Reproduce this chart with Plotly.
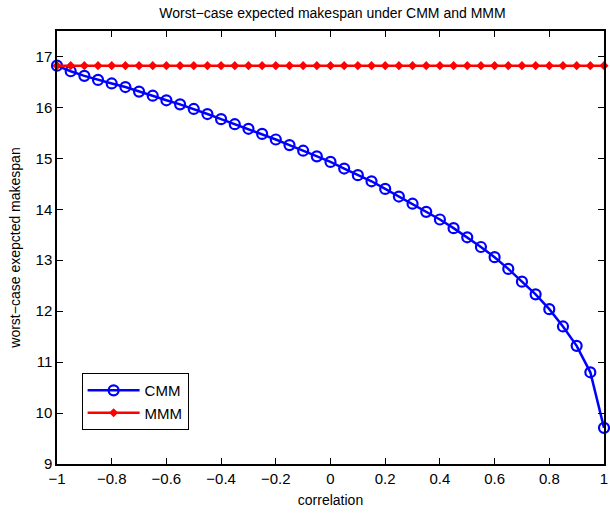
import plotly.graph_objects as go

correlation = [round(-1 + 0.05 * i, 2) for i in range(41)]
cmm = [16.82, 16.71, 16.62, 16.54, 16.47, 16.40, 16.31, 16.23, 16.14, 16.06,
       15.97, 15.87, 15.77, 15.67, 15.58, 15.48, 15.37, 15.26, 15.15, 15.04,
       14.93, 14.80, 14.67, 14.55, 14.40, 14.25, 14.11, 13.95, 13.80, 13.63,
       13.45, 13.26, 13.06, 12.83, 12.58, 12.33, 12.04, 11.70, 11.32, 10.80,
       9.71]
mmm = [16.82] * 41

x_ticks = [-1, -0.8, -0.6, -0.4, -0.2, 0, 0.2, 0.4, 0.6, 0.8, 1]
y_ticks = [9, 10, 11, 12, 13, 14, 15, 16, 17]

FONT = "Liberation Sans, Arial, Helvetica, sans-serif"

fig = go.Figure()
fig.add_trace(go.Scatter(
    x=correlation, y=cmm, name="CMM", mode="lines+markers",
    line=dict(color="#0000ff", width=2.5),
    marker=dict(symbol="circle-open", size=10, color="#0000ff", line=dict(width=2.2, color="#0000ff")),
    cliponaxis=False,
))
fig.add_trace(go.Scatter(
    x=correlation, y=mmm, name="MMM", mode="lines+markers",
    line=dict(color="#ff0000", width=2.5),
    marker=dict(symbol="diamond", size=7, color="#ff0000"),
    cliponaxis=False,
))

fig.update_layout(
    width=610, height=513,
    margin=dict(l=57, r=2, t=31, b=49),
    paper_bgcolor="white", plot_bgcolor="white",
    font=dict(family=FONT, size=14, color="black"),
    title=dict(text="Worst\u2212case expected makespan under CMM and MMM",
               x=0.545, xanchor="center", y=0.975, yanchor="middle",
               font=dict(size=14, family=FONT, color="black")),
    showlegend=True,
    legend=dict(x=0.045, y=0.21, xanchor="left", yanchor="top",
                bordercolor="black", borderwidth=1, bgcolor="white",
                font=dict(size=15, family=FONT), tracegroupgap=0,
                itemwidth=52),
)
fig.update_xaxes(
    range=[-1, 1], tickvals=x_ticks, ticklabeloverflow="allow",
    ticks="inside", ticklen=6, tickwidth=1, tickcolor="black",
    showline=True, linecolor="black", linewidth=1.5, mirror="ticks",
    showgrid=False, zeroline=False,
    title=dict(text="correlation", font=dict(size=14, family=FONT), standoff=9),
    tickfont=dict(size=15, family=FONT),
)
fig.update_yaxes(
    range=[9, 17.5], tickvals=y_ticks,
    ticks="inside", ticklen=6, tickwidth=1, tickcolor="black",
    showline=True, linecolor="black", linewidth=1.5, mirror="ticks",
    showgrid=False, zeroline=False,
    title=dict(text="worst\u2212case exepcted makespan", font=dict(size=14, family=FONT), standoff=12),
    tickfont=dict(size=15, family=FONT),
)

fig.write_html("out.html")
